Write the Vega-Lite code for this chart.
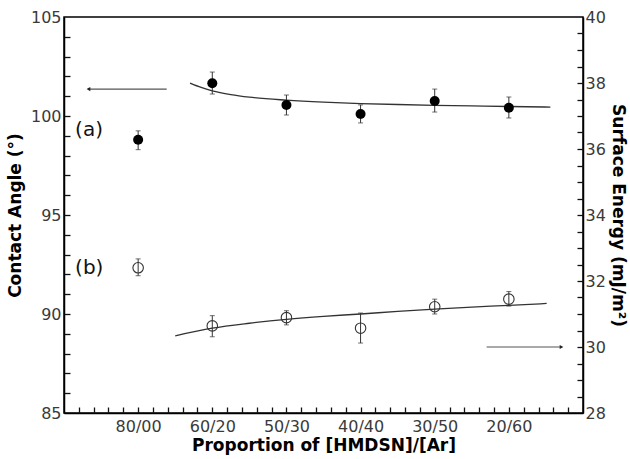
{
  "$schema": "https://vega.github.io/schema/vega-lite/v6.json",
  "width": 519,
  "height": 396,
  "autosize": "none",
  "padding": {"left": 64, "top": 17, "right": 47, "bottom": 46},
  "background": "white",
  "config": {
    "view": {"stroke": "black", "strokeWidth": 1.5},
    "font": "DejaVu Sans",
    "axis": {
      "labelFont": "DejaVu Sans",
      "labelFontSize": 16,
      "labelColor": "#3a3a3a",
      "titleFont": "DejaVu Sans",
      "titleFontSize": 17,
      "titleFontWeight": "bold",
      "titleColor": "black",
      "domainColor": "black",
      "domainWidth": 1.5,
      "grid": false
    }
  },
  "datasets": {
    "pa": [
      {"ratio": "80/00", "idx": 1, "angle": 98.8, "lo": 98.3, "hi": 99.25},
      {"ratio": "60/20", "idx": 2, "angle": 101.65, "lo": 101.11, "hi": 102.22},
      {"ratio": "50/30", "idx": 3, "angle": 100.56, "lo": 100.05, "hi": 101.06},
      {"ratio": "40/40", "idx": 4, "angle": 100.1, "lo": 99.65, "hi": 100.56},
      {"ratio": "30/50", "idx": 5, "angle": 100.76, "lo": 100.2, "hi": 101.36},
      {"ratio": "20/60", "idx": 6, "angle": 100.42, "lo": 99.9, "hi": 100.96}
    ],
    "pb": [
      {"ratio": "80/00", "idx": 1, "energy": 32.4, "lo": 32.16, "hi": 32.67},
      {"ratio": "60/20", "idx": 2, "energy": 30.64, "lo": 30.31, "hi": 30.95},
      {"ratio": "50/30", "idx": 3, "energy": 30.89, "lo": 30.67, "hi": 31.1},
      {"ratio": "40/40", "idx": 4, "energy": 30.57, "lo": 30.12, "hi": 31.03},
      {"ratio": "30/50", "idx": 5, "energy": 31.22, "lo": 31.0, "hi": 31.45},
      {"ratio": "20/60", "idx": 6, "energy": 31.45, "lo": 31.24, "hi": 31.68}
    ],
    "ca": [
      {"idx": 1.7, "angle": 101.66},
      {"idx": 1.85, "angle": 101.44},
      {"idx": 2.0, "angle": 101.27},
      {"idx": 2.25, "angle": 101.08},
      {"idx": 2.5, "angle": 100.95},
      {"idx": 3.0, "angle": 100.8},
      {"idx": 3.5, "angle": 100.7},
      {"idx": 4.0, "angle": 100.63},
      {"idx": 4.5, "angle": 100.58},
      {"idx": 5.0, "angle": 100.54},
      {"idx": 5.5, "angle": 100.51},
      {"idx": 6.0, "angle": 100.48},
      {"idx": 6.56, "angle": 100.45}
    ],
    "cb": [
      {"idx": 1.5, "energy": 30.34},
      {"idx": 2.0, "energy": 30.57},
      {"idx": 2.5, "energy": 30.72},
      {"idx": 3.0, "energy": 30.84},
      {"idx": 3.5, "energy": 30.93},
      {"idx": 4.0, "energy": 31.0},
      {"idx": 4.5, "energy": 31.08},
      {"idx": 5.0, "energy": 31.15},
      {"idx": 5.5, "energy": 31.21},
      {"idx": 6.0, "energy": 31.26},
      {"idx": 6.51, "energy": 31.32}
    ],
    "arrowA": [{"from": 1.385, "to": 0.33, "angle": 101.36}],
    "arrowB": [{"from": 5.7, "to": 6.71, "energy": 30.0}],
    "labels": [
      {"idx": 0.15, "angle": 99.3, "text": "(a)"},
      {"idx": 0.15, "angle": 92.3, "text": "(b)"}
    ]
  },
  "resolve": {"scale": {"x": "independent", "y": "independent"}},
  "layer": [
    {
      "data": {"name": "ca"},
      "mark": {"type": "line", "color": "#333333", "strokeWidth": 1.3, "interpolate": "monotone"},
      "encoding": {
        "x": {"field": "idx", "type": "quantitative", "scale": {"domain": [0, 7], "nice": false, "zero": false},
          "axis": {"orient": "bottom", "values": [0.2,0.4,0.6,0.8,1,1.2,1.4,1.6,1.8,2,2.2,2.4,2.6,2.8,3,3.2,3.4,3.6,3.8,4,4.2,4.4,4.6,4.8,5,5.2,5.4,5.6,5.8,6,6.2,6.4,6.6,6.8], "labels": false, "domain": false, "ticks": true, "tickSize": 6, "tickColor": "#111111", "tickWidth": 1.3, "offset": -6, "zindex": 5, "title": null}},
        "y": {"field": "angle", "type": "quantitative", "scale": {"domain": [85, 105], "nice": false, "zero": false},
          "axis": {"orient": "left", "values": [86,87,88,89,90,91,92,93,94,95,96,97,98,99,100,101,102,103,104], "labels": false, "domain": false, "ticks": true, "tickSize": 6, "tickColor": "#111111", "tickWidth": 1.3, "offset": -6, "zindex": 5, "title": null}}
      }
    },
    {
      "data": {"name": "cb"},
      "mark": {"type": "line", "color": "#333333", "strokeWidth": 1.3, "interpolate": "monotone"},
      "encoding": {
        "x": {"field": "idx", "type": "quantitative", "scale": {"domain": [0, 7], "nice": false, "zero": false}, "axis": null},
        "y": {"field": "energy", "type": "quantitative", "scale": {"domain": [28, 40], "nice": false, "zero": false},
          "axis": {"orient": "right", "values": [28.5,29,29.5,30,30.5,31,31.5,32,32.5,33,33.5,34,34.5,35,35.5,36,36.5,37,37.5,38,38.5,39,39.5], "labels": false, "domain": false, "ticks": true, "tickSize": 6, "tickColor": "#111111", "tickWidth": 1.3, "offset": -6, "zindex": 5, "title": null}}
      }
    },
    {
      "data": {"name": "pa"},
      "mark": {"type": "errorbar", "ticks": {"size": 5, "color": "#333333"}, "rule": {"color": "#333333", "strokeWidth": 1}},
      "encoding": {
        "x": {"field": "idx", "type": "quantitative", "scale": {"domain": [0, 7], "nice": false, "zero": false}, "axis": null},
        "y": {"field": "lo", "type": "quantitative", "scale": {"domain": [85, 105], "nice": false, "zero": false}, "axis": null},
        "y2": {"field": "hi"}
      }
    },
    {
      "data": {"name": "pa"},
      "mark": {"type": "point", "shape": "circle", "filled": true, "color": "black", "size": 100, "opacity": 1},
      "encoding": {
        "x": {"field": "idx", "type": "quantitative", "scale": {"domain": [0, 7], "nice": false, "zero": false},
          "axis": {"orient": "bottom", "values": [1,2,3,4,5,6], "labelExpr": "['','80/00','60/20','50/30','40/40','30/50','20/60',''][datum.value]", "ticks": false, "labelPadding": 5, "title": "Proportion of [HMDSN]/[Ar]", "titlePadding": 3}},
        "y": {"field": "angle", "type": "quantitative", "scale": {"domain": [85, 105], "nice": false, "zero": false},
          "axis": {"orient": "left", "values": [85,90,95,100,105], "ticks": false, "labelPadding": 3, "title": "Contact Angle (°)", "titlePadding": 6}}
      }
    },
    {
      "data": {"name": "pb"},
      "mark": {"type": "errorbar", "ticks": {"size": 5, "color": "#333333"}, "rule": {"color": "#333333", "strokeWidth": 1}},
      "encoding": {
        "x": {"field": "idx", "type": "quantitative", "scale": {"domain": [0, 7], "nice": false, "zero": false}, "axis": null},
        "y": {"field": "lo", "type": "quantitative", "scale": {"domain": [28, 40], "nice": false, "zero": false}, "axis": null},
        "y2": {"field": "hi"}
      }
    },
    {
      "data": {"name": "pb"},
      "mark": {"type": "point", "shape": "circle", "filled": false, "color": "#333333", "strokeWidth": 1.1, "size": 110, "opacity": 1},
      "encoding": {
        "x": {"field": "idx", "type": "quantitative", "scale": {"domain": [0, 7], "nice": false, "zero": false}, "axis": null},
        "y": {"field": "energy", "type": "quantitative", "scale": {"domain": [28, 40], "nice": false, "zero": false},
          "axis": {"orient": "right", "values": [28,30,32,34,36,38,40], "ticks": false, "labelPadding": 2, "title": "Surface Energy (mJ/m²)", "titlePadding": 3}}
      }
    },
    {
      "data": {"name": "arrowA"},
      "mark": {"type": "rule", "color": "#555555", "strokeWidth": 1.2},
      "encoding": {
        "x": {"field": "from", "type": "quantitative", "scale": {"domain": [0, 7], "nice": false, "zero": false}, "axis": null},
        "x2": {"field": "to"},
        "y": {"field": "angle", "type": "quantitative", "scale": {"domain": [85, 105], "nice": false, "zero": false}, "axis": null}
      }
    },
    {
      "data": {"name": "arrowA"},
      "mark": {"type": "point", "shape": "triangle-left", "filled": true, "color": "#222222", "size": 18, "opacity": 1},
      "encoding": {
        "x": {"field": "to", "type": "quantitative", "scale": {"domain": [0, 7], "nice": false, "zero": false}, "axis": null},
        "y": {"field": "angle", "type": "quantitative", "scale": {"domain": [85, 105], "nice": false, "zero": false}, "axis": null}
      }
    },
    {
      "data": {"name": "arrowB"},
      "mark": {"type": "rule", "color": "#555555", "strokeWidth": 1.2},
      "encoding": {
        "x": {"field": "from", "type": "quantitative", "scale": {"domain": [0, 7], "nice": false, "zero": false}, "axis": null},
        "x2": {"field": "to"},
        "y": {"field": "energy", "type": "quantitative", "scale": {"domain": [28, 40], "nice": false, "zero": false}, "axis": null}
      }
    },
    {
      "data": {"name": "arrowB"},
      "mark": {"type": "point", "shape": "triangle-right", "filled": true, "color": "#222222", "size": 18, "opacity": 1},
      "encoding": {
        "x": {"field": "to", "type": "quantitative", "scale": {"domain": [0, 7], "nice": false, "zero": false}, "axis": null},
        "y": {"field": "energy", "type": "quantitative", "scale": {"domain": [28, 40], "nice": false, "zero": false}, "axis": null}
      }
    },
    {
      "data": {"name": "labels"},
      "mark": {"type": "text", "align": "left", "baseline": "middle", "fontSize": 20, "font": "DejaVu Sans", "color": "#111111"},
      "encoding": {
        "x": {"field": "idx", "type": "quantitative", "scale": {"domain": [0, 7], "nice": false, "zero": false}, "axis": null},
        "y": {"field": "angle", "type": "quantitative", "scale": {"domain": [85, 105], "nice": false, "zero": false}, "axis": null},
        "text": {"field": "text", "type": "nominal"}
      }
    }
  ]
}
